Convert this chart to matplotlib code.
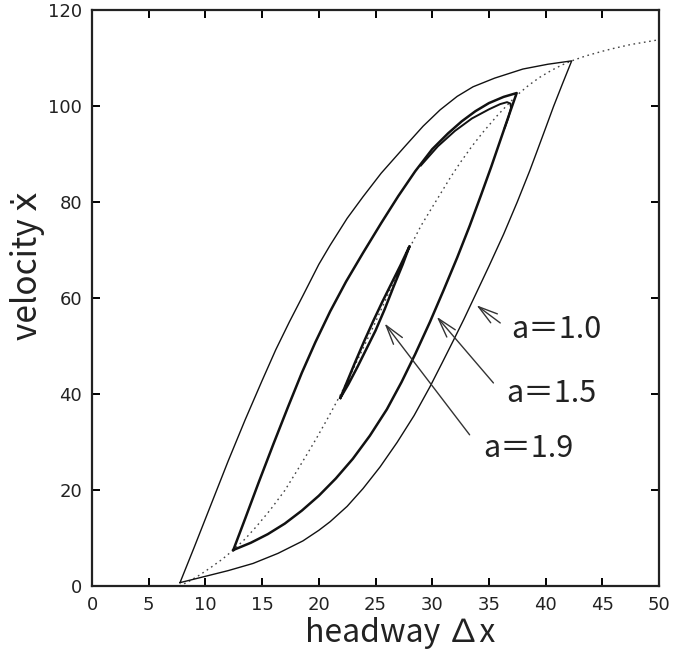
import matplotlib
matplotlib.use('Agg')
import matplotlib.pyplot as plt

# optimal velocity function (dotted)
ov_x = [7.7, 8.5, 9.5, 10.5, 11.5, 12.46, 13.5, 14.5, 15.7, 17.0, 18.05, 19.0, 19.8, 20.8, 21.9,
        23.0, 24.0, 25.0, 26.0, 27.0, 28.0, 29.0, 30.0, 30.7, 31.6, 32.5, 33.5, 34.5, 35.7, 36.5,
        37.45, 38.5, 39.5, 40.5, 41.4, 42.3, 43.5, 45.0, 46.0, 47.5, 49.0, 50.0]
ov_y = [0.0, 0.9, 2.3, 3.9, 5.6, 7.5, 9.8, 12.4, 15.8, 19.9, 23.9, 27.6, 30.8, 35.0, 39.8,
        45.0, 50.0, 55.0, 60.2, 65.4, 70.4, 75.0, 78.9, 81.6, 85.1, 88.3, 91.6, 94.6, 97.9, 99.9,
        102.2, 104.3, 106.0, 107.4, 108.5, 109.4, 110.4, 111.4, 112.0, 112.8, 113.4, 113.8]

# a = 1.0 loop (upper branch then lower branch back)
a10_x = [7.76, 9.0, 10.5, 12.0, 13.5, 15.0, 16.2, 17.4, 18.6, 20.0, 21.0, 22.5, 23.9, 25.5,
         27.6, 29.2, 30.7, 32.2, 33.6, 35.5, 38.0, 40.2, 42.3,
         41.5, 40.7, 40.0, 39.2, 38.6, 37.5, 36.3, 35.0, 33.6, 32.8, 31.9, 30.9, 29.8, 28.4,
         26.9, 25.4, 23.9, 22.5, 21.0, 20.0, 18.6, 16.4, 14.2, 12.0, 9.8, 7.76]
a10_y = [0.7, 8.0, 17.0, 26.0, 34.6, 42.8, 49.2, 55.0, 60.5, 67.0, 71.0, 76.6, 81.1, 86.0,
         91.6, 95.8, 99.2, 102.0, 104.0, 105.8, 107.7, 108.7, 109.4,
         104.7, 99.9, 95.4, 90.3, 86.5, 80.0, 73.3, 66.6, 59.6, 55.6, 51.3, 46.6, 41.5, 35.5,
         29.9, 24.8, 20.3, 16.6, 13.4, 11.6, 9.4, 6.8, 4.7, 3.2, 1.9, 0.7]

# a = 1.5 loop
a15_x = [12.46, 13.5, 14.7, 16.0, 17.3, 18.5, 19.7, 21.0, 22.4, 23.9, 25.5, 27.0, 28.5, 30.0,
         31.4, 32.6, 33.8, 35.0, 36.3, 37.45,
         36.8, 36.0, 35.2, 34.3, 33.3, 32.2, 31.0, 29.8, 28.5, 27.3, 26.0, 24.5, 23.0, 21.5,
         20.0, 18.5, 17.0, 15.5, 14.0, 12.46]
a15_y = [7.5, 14.0, 21.6, 29.6, 37.4, 44.4, 50.8, 57.2, 63.4, 69.4, 75.6, 81.2, 86.4, 91.0,
         94.3, 96.8, 98.9, 100.6, 101.9, 102.7,
         98.3, 92.8, 87.3, 81.4, 75.0, 68.4, 61.6, 55.0, 48.3, 42.5, 36.8, 31.3, 26.5, 22.4,
         18.8, 15.7, 13.0, 10.8, 9.0, 7.5]
# transient inner path near the top of a = 1.5
a15b_x = [29.0, 30.5, 32.0, 33.5, 35.0, 36.0, 36.6, 36.9, 36.95, 36.7, 36.4]
a15b_y = [87.6, 91.6, 94.8, 97.4, 99.3, 100.4, 100.8, 100.5, 99.6, 97.5, 95.5]

# a = 1.9 loop
a19_x = [21.9, 22.5, 23.2, 24.0, 24.8, 25.6, 26.4, 27.2, 28.0,
         27.4, 26.6, 25.8, 25.0, 24.2, 23.4, 22.6, 21.9]
a19_y = [39.2, 42.6, 46.6, 51.0, 55.2, 59.2, 63.0, 66.8, 70.8,
         67.0, 62.4, 57.6, 53.2, 49.4, 45.6, 42.0, 39.2]

labels = ['a＝1.0', 'a＝1.5', 'a＝1.9']
label_xy = [(37.0, 51.7), (36.5, 38.3), (34.5, 26.9)]
arrow_tail = [(36.0, 54.8), (35.4, 42.3), (33.3, 31.5)]
arrow_head = [(33.9, 58.5), (30.4, 56.1), (25.8, 54.7)]

fam = ['Noto Sans CJK JP', 'DejaVu Sans']

fig = plt.figure(figsize=(6.95, 6.53), dpi=100)
ax = fig.add_axes([0.1324, 0.1026, 0.8158, 0.8821])

ax.plot(ov_x, ov_y, color='#444444', lw=1.0, linestyle=(0, (1.2, 2.6)))
ax.plot(a10_x, a10_y, color='#111111', lw=1.0)
ax.plot(a15_x, a15_y, color='#111111', lw=1.8)
ax.plot(a15b_x, a15b_y, color='#111111', lw=1.4)
ax.plot(a19_x, a19_y, color='#111111', lw=1.8)

for lab, (tx, ty), t, h in zip(labels, label_xy, arrow_tail, arrow_head):
    ax.text(tx, ty, lab, fontsize=22, family=fam, color='#222222', ha='left', va='baseline')
    ax.annotate('', xy=h, xytext=t,
                arrowprops=dict(arrowstyle='->, head_length=0.7, head_width=0.2',
                                mutation_scale=20, lw=1.0, color='#333333',
                                shrinkA=0, shrinkB=0))

ax.set_xlim(0, 50)
ax.set_ylim(0, 120)
ax.set_xticks(range(0, 51, 5))
ax.set_yticks(range(0, 121, 20))
ax.tick_params(direction='in', top=True, right=True, length=6, width=1.4, pad=7,
               labelsize=13, labelcolor='#222222')
for s in ax.spines.values():
    s.set_linewidth(1.6)
    s.set_color('#222222')

fig.text(28 / 695, 1 - 266 / 653, 'velocity ẋ', rotation=90, fontsize=24, family=fam,
         ha='center', va='center', color='#222222')
fig.text(400 / 695, 1 - 642 / 653, 'headway ∆x', fontsize=23, family=fam,
         ha='center', va='baseline', color='#222222')

plt.savefig('out.png', dpi=100)
